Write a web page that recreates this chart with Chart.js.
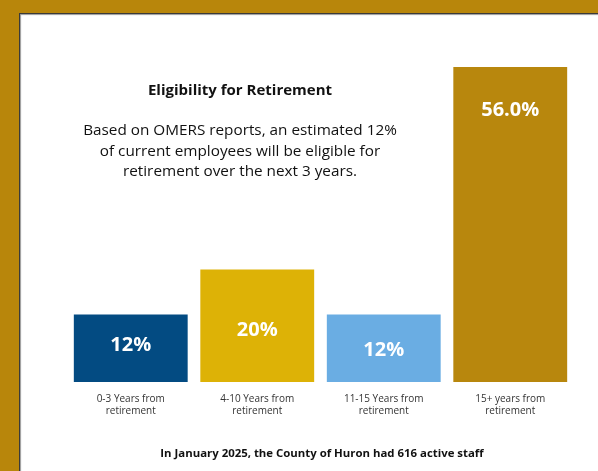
<!DOCTYPE html>
<html>
<head>
<meta charset="utf-8">
<script src="https://cdn.jsdelivr.net/npm/chart.js@4/dist/chart.umd.min.js"></script>
<style>
  html, body { margin: 0; padding: 0; }
  body { width: 598px; height: 471px; background: #B8860B; position: relative; overflow: hidden; font-family: "Open Sans", "DejaVu Sans", sans-serif; }
  #panel { position: absolute; left: 19px; top: 13px; width: 590px; height: 470px; background: #fff; border-left: 1px solid #3a3a3a; border-top: 1px solid #3a3a3a; box-shadow: inset 1px 1px 1px #9a9a9a; }
  #chartWrap { position: absolute; left: 0; top: 0; width: 598px; height: 471px; }
  .txt { position: absolute; text-align: center; color: #111; white-space: nowrap; }
  #title { left: 90px; width: 300px; top: 79px; font-weight: 700; font-size: 15px; }
  #sub { left: 40px; width: 400px; top: 119px; font-size: 15.3px; line-height: 20.5px; }
  #foot { left: 122px; width: 400px; top: 445px; font-weight: 700; font-size: 11.4px; }
</style>
</head>
<body>
<div id="panel"></div>
<div id="chartWrap"><canvas id="c" width="598" height="471"></canvas></div>
<div class="txt" id="title">Eligibility for Retirement</div>
<div class="txt" id="sub">Based on OMERS reports, an estimated 12%<br>of current employees will be eligible for<br>retirement over the next 3 years.</div>
<div class="txt" id="foot">In January 2025, the County of Huron had 616 active staff</div>
<script>
const categories = [
  ["0-3 Years from", "retirement"],
  ["4-10 Years from", "retirement"],
  ["11-15 Years from", "retirement"],
  ["15+ years from", "retirement"]
];
const shareValues = [12, 20, 12, 56];
const valueLabels = ["12%", "20%", "12%", "56.0%"];
const barColors = ["#034B82", "#DDB206", "#6AADE3", "#B8870D"];

const labelOffsets = [31, 61, 36, 43];

const barLabelPlugin = {
  id: 'barLabels',
  afterDatasetsDraw(chart) {
    const ctx = chart.ctx;
    const meta = chart.getDatasetMeta(0);
    ctx.save();
    ctx.fillStyle = '#ffffff';
    ctx.font = 'bold 20px "Open Sans", "DejaVu Sans", sans-serif';
    ctx.textAlign = 'center';
    ctx.textBaseline = 'middle';
    meta.data.forEach((bar, i) => {
      ctx.fillText(valueLabels[i], bar.x, bar.y + labelOffsets[i]);
    });
    ctx.restore();
  }
};

new Chart(document.getElementById('c'), {
  type: 'bar',
  data: {
    labels: categories,
    datasets: [{
      data: shareValues,
      backgroundColor: barColors,
      borderWidth: 0,
      categoryPercentage: 0.9,
      barPercentage: 1.0
    }]
  },
  options: {
    responsive: false,
    animation: false,
    events: [],
    layout: { padding: { left: 67.5, right: 24.5, top: 44.5, bottom: 0 } },
    plugins: { legend: { display: false }, tooltip: { enabled: false } },
    scales: {
      x: {
        grid: { display: false, drawTicks: false },
        border: { display: false },
        ticks: {
          color: '#333',
          padding: 11,
          font: { family: '"Open Sans", "DejaVu Sans", sans-serif', size: 10, lineHeight: 1.2 },
          maxRotation: 0, autoSkip: false
        },
        afterFit(scale) { scale.height = 89; }
      },
      y: {
        display: false,
        min: 0,
        max: 60
      }
    }
  },
  plugins: [barLabelPlugin]
});
</script>
</body>
</html>
